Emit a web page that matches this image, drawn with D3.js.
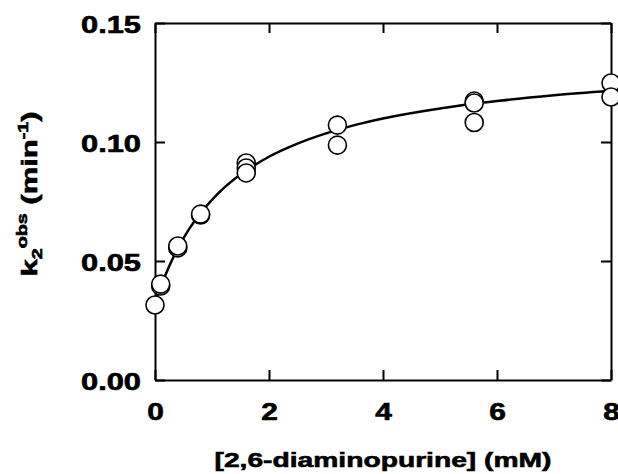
<!DOCTYPE html>
<html>
<head>
<meta charset="utf-8">
<script src="https://cdn.jsdelivr.net/npm/d3@7"></script>
<style>
  body { margin: 0; background: #fff; }
  svg { display: block; }
  text { font-family: "Liberation Sans", Arial, sans-serif; font-weight: bold; fill: #000;
         stroke: #000; stroke-width: 0.6px; }
</style>
</head>
<body>
<svg id="chart" width="618" height="474"></svg>
<script>
// measured points: [2,6-diaminopurine] (mM) vs k2obs (min^-1)
var pointConc = [0, 0.1, 0.1, 0.4, 0.4, 0.8, 0.8, 1.6, 1.6, 1.6, 3.2, 3.2, 5.6, 5.6, 5.6, 8, 8];
var pointRate = [0.0315, 0.0395, 0.0403, 0.0555, 0.0563, 0.0693, 0.0697, 0.0912, 0.0891, 0.0870,
                 0.1071, 0.0987, 0.1172, 0.1164, 0.1082, 0.1248, 0.1189];

// fitted curve
var curveConc = [0, 0.1, 0.2, 0.4, 0.6, 0.8, 1.0, 1.2, 1.6, 2.0, 2.5, 3.0, 3.5, 4.0, 5.0, 6.0, 7.0, 8.0];
var curveRate = [0.032, 0.039, 0.0451, 0.0553, 0.0635, 0.0702, 0.0757, 0.0805, 0.088, 0.0938,
                 0.0993, 0.1036, 0.1071, 0.1099, 0.1141, 0.1172, 0.1196, 0.1215];

var xTicks = [0, 2, 4, 6, 8];
var yTicks = [0, 0.05, 0.10, 0.15];

(function() {
    var margin = {left: 155, top: 23, right: 7, bottom: 94};
    var svg = d3.select("#chart");
    var width = +svg.attr("width") - margin.left - margin.right;
    var height = +svg.attr("height") - margin.top - margin.bottom;

    var x = d3.scaleLinear().domain([0, 8]).range([0, width]);
    var y = d3.scaleLinear().domain([0, 0.15]).range([height, 0]);

    var g = svg.append("g").attr("transform", "translate(" + margin.left + "," + margin.top + ")");

    // widen the glyphs a bit, the original type is an extended face
    var stretch = function(sel, factor) {
        sel.each(function() {
            var len = this.getComputedTextLength();
            d3.select(this).attr("textLength", len * factor).attr("lengthAdjust", "spacingAndGlyphs");
        });
    };

    var styleAxis = function(ax) {
        ax.attr("font-family", null).attr("font-size", null);
        ax.select(".domain").attr("stroke", "#000").attr("stroke-width", 2);
        ax.selectAll(".tick line").attr("stroke", "#000").attr("stroke-width", 2);
    };

    var bottomAx = g.append("g").attr("transform", "translate(0," + height + ")")
        .call(d3.axisBottom(x).tickValues(xTicks).tickSizeInner(-10).tickSizeOuter(0).tickFormat(d3.format("d")));
    styleAxis(bottomAx);
    bottomAx.selectAll("text").attr("dy", null).attr("y", 40).style("font-size", "23px");

    var leftAx = g.append("g")
        .call(d3.axisLeft(y).tickValues(yTicks).tickSizeInner(-10).tickSizeOuter(0).tickFormat(d3.format(".2f")));
    styleAxis(leftAx);
    leftAx.selectAll("text").attr("dy", null).attr("y", 9.5).attr("x", -14).style("font-size", "23px");

    var topAx = g.append("g")
        .call(d3.axisTop(x).tickValues(xTicks).tickSizeInner(-10).tickSizeOuter(0).tickFormat(""));
    styleAxis(topAx);

    var rightAx = g.append("g").attr("transform", "translate(" + width + ",0)")
        .call(d3.axisRight(y).tickValues(yTicks).tickSizeInner(-10).tickSizeOuter(0).tickFormat(""));
    styleAxis(rightAx);

    bottomAx.selectAll("text").call(stretch, 1.3);
    leftAx.selectAll("text").call(stretch, 1.34);

    // fit curve
    var line = d3.line()
        .x(function(d, i) { return x(curveConc[i]); })
        .y(function(d, i) { return y(curveRate[i]); })
        .curve(d3.curveMonotoneX);

    g.append("path")
        .datum(curveConc)
        .attr("d", line)
        .attr("fill", "none")
        .attr("stroke", "#000")
        .attr("stroke-width", 2.5);

    // open circles
    g.selectAll("circle.pt")
        .data(pointConc)
        .enter().append("circle")
        .attr("class", "pt")
        .attr("cx", function(d) { return x(d); })
        .attr("cy", function(d, i) { return y(pointRate[i]); })
        .attr("r", 9)
        .attr("fill", "#fff")
        .attr("stroke", "#000")
        .attr("stroke-width", 1.6);

    // axis titles
    svg.append("text")
        .attr("x", margin.left + width / 2)
        .attr("y", 467)
        .attr("text-anchor", "middle")
        .style("font-size", "21px")
        .attr("textLength", 337)
        .attr("lengthAdjust", "spacingAndGlyphs")
        .text("[2,6-diaminopurine]  (mM)");

    var yTitle = svg.append("text")
        .attr("transform", "translate(37,194) rotate(-90)")
        .attr("text-anchor", "middle")
        .style("font-size", "22px");
    yTitle.append("tspan").text("k");
    yTitle.append("tspan").attr("dy", 5).style("font-size", "14px").text("2");
    yTitle.append("tspan").attr("dy", -15).style("font-size", "14px").text("obs");
    yTitle.append("tspan").attr("dy", 10).text(" (min");
    yTitle.append("tspan").attr("dy", -9).style("font-size", "14px").text("-1");
    yTitle.append("tspan").attr("dy", 9).text(")");
    yTitle.attr("textLength", 165).attr("lengthAdjust", "spacingAndGlyphs");
})();
</script>
</body>
</html>
